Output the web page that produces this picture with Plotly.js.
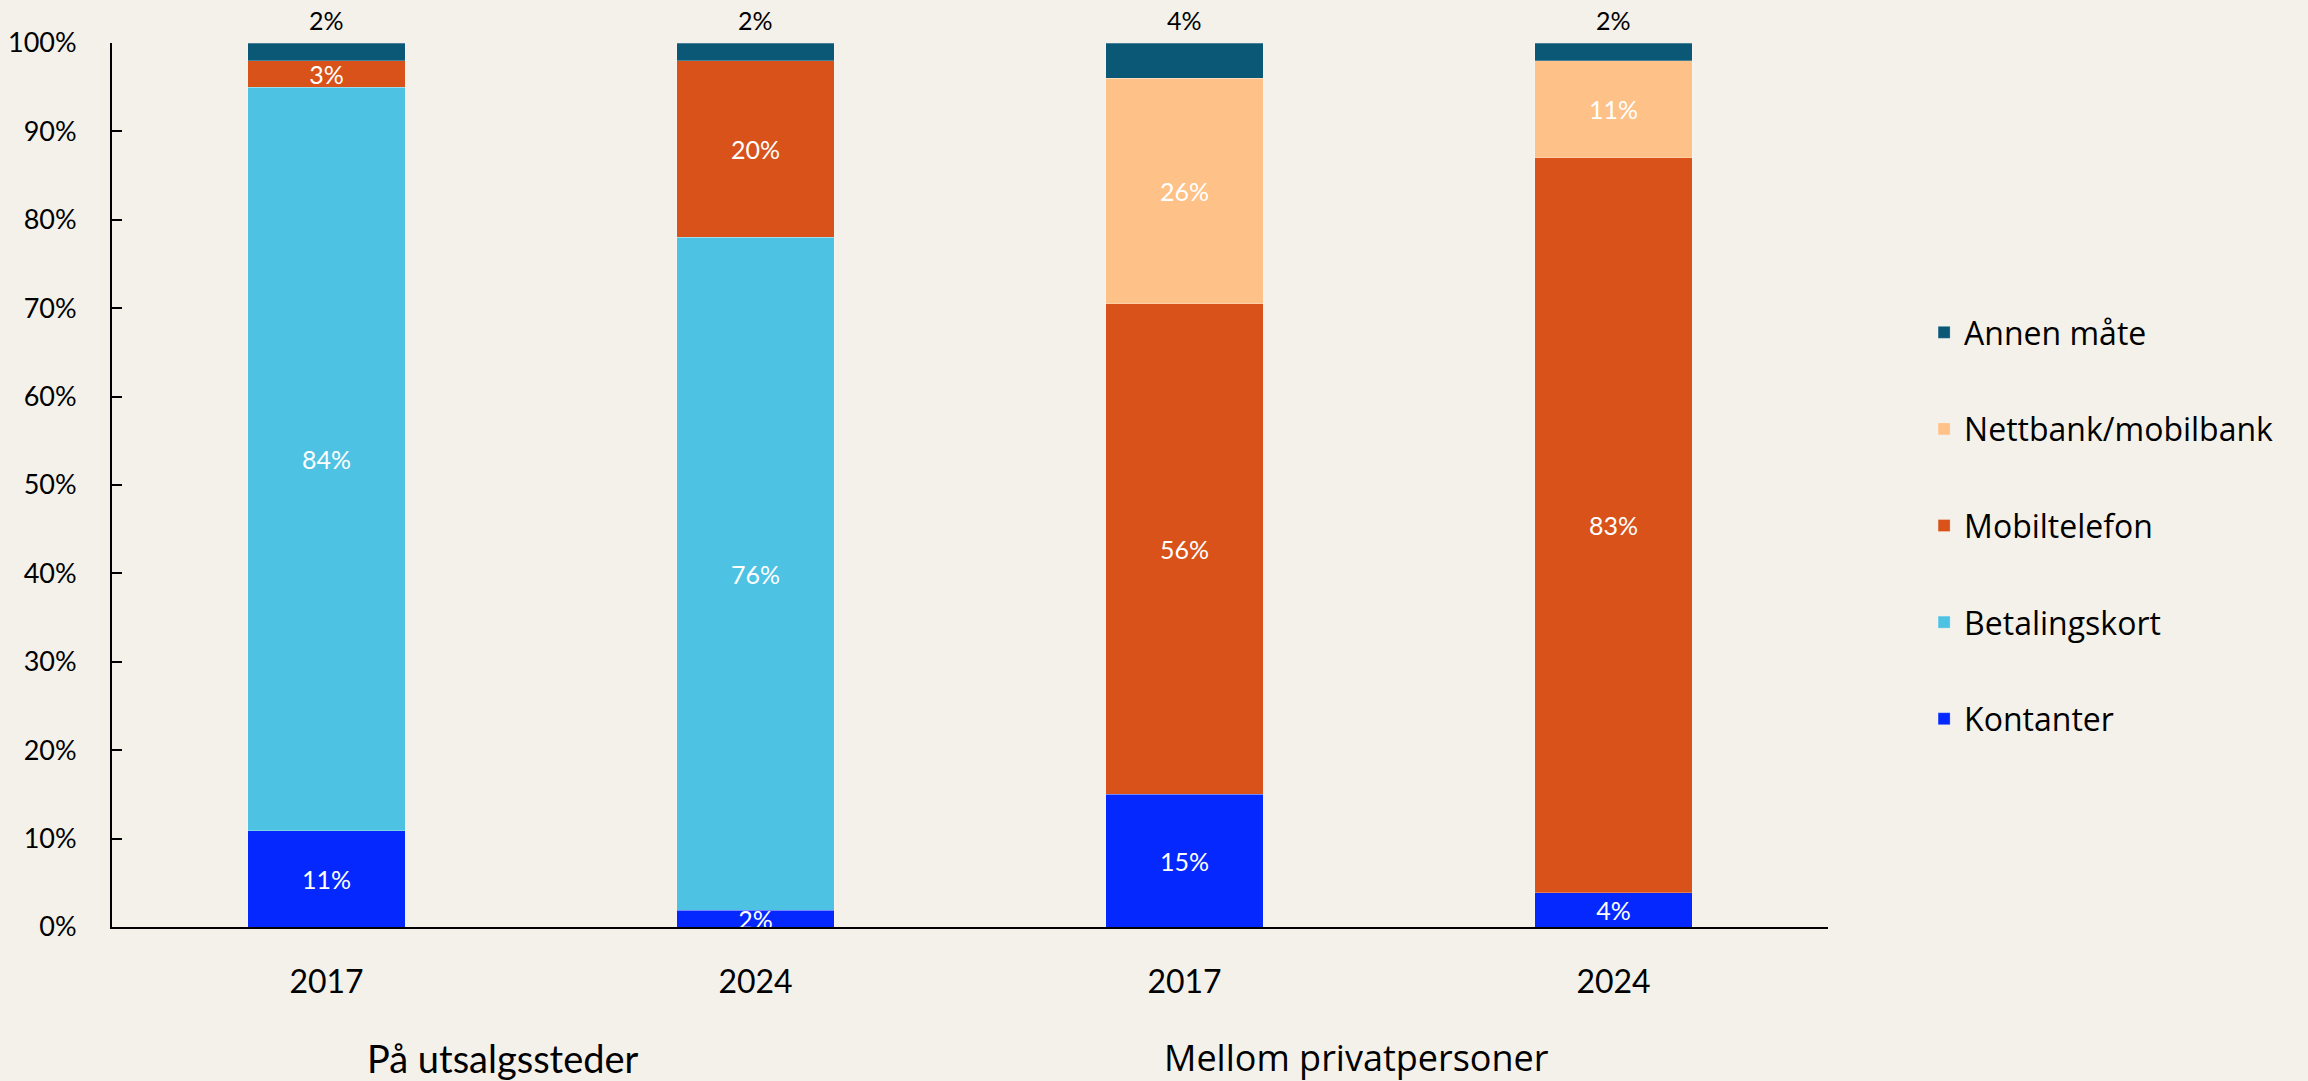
<!DOCTYPE html>
<html>
<head>
<meta charset="utf-8">
<script src="https://cdn.plot.ly/plotly-3.0.1.min.js"></script>
<style>
  html, body { margin: 0; padding: 0; background: #F4F1EA; }
  #chart { width: 2308px; height: 1081px; }
</style>
</head>
<body>
<div id="chart"></div>
<script>
// ---- data (percent) ----
const groups = ['På utsalgssteder', 'På utsalgssteder', 'Mellom privatpersoner', 'Mellom privatpersoner'];
const years = ['2017', '2024', '2017', '2024'];
const kontanter = [10.9, 1.9, 15.0, 3.9];
const betalingskort = [84.1, 76.1, 0, 0];
const mobiltelefon = [3.0, 20.0, 55.5, 83.1];
const nettbank = [0, 0, 25.5, 11.0];
const annenMaate = [2.0, 2.0, 4.0, 2.0];

const seriesNames = ['Kontanter', 'Betalingskort', 'Mobiltelefon', 'Nettbank/mobilbank', 'Annen måte'];
const seriesValues = [kontanter, betalingskort, mobiltelefon, nettbank, annenMaate];
const seriesColors = ['#0528FF', '#4EC2E3', '#D85219', '#FEC187', '#0B5876'];

const groupLabels = ['På utsalgssteder', 'Mellom privatpersoner'];
const yTickValues = [0, 10, 20, 30, 40, 50, 60, 70, 80, 90, 100];

// ---- build ----
const keys = groups.map((g, i) => g + ' ' + years[i]);
const pct = v => Math.round(v) + '%';
const nSeries = seriesValues.length;

const traces = seriesValues.map((vals, s) => {
  const isTop = s === nSeries - 1;
  return {
    type: 'bar',
    name: seriesNames[s],
    legendgroup: seriesNames[s],
    legendrank: nSeries - s,
    x: keys,
    y: vals.map(v => (v === 0 ? null : v)),
    text: vals.map(v => (v === 0 || isTop ? '' : pct(v))),
    textposition: 'inside',
    insidetextanchor: 'middle',
    textangle: 0,
    constraintext: 'none',
    cliponaxis: false,
    insidetextfont: { family: 'Lato, Liberation Sans, sans-serif', size: 25, color: '#FFFFFF' },
    marker: { color: seriesColors[s], line: { width: 1, color: 'rgba(255,255,255,0.25)' } },
    hoverinfo: 'x+y+name'
  };
});

// labels above each stack (value of the top segment)
const totals = keys.map((k, i) => seriesValues.reduce((a, arr) => a + arr[i], 0));
const topAnnotations = keys.map((k, i) => ({
  x: k, y: totals[i], xref: 'x', yref: 'y',
  text: pct(annenMaate[i]),
  showarrow: false, yanchor: 'bottom', yshift: 6,
  font: { family: 'Lato, Liberation Sans, sans-serif', size: 25, color: '#000000' }
}));

const groupPos = [0.228, 0.7254];
const groupFonts = [
  { family: 'Lato, Liberation Sans, sans-serif', size: 38, color: '#000000' },
  { family: 'Open Sans, sans-serif', size: 36, color: '#000000' }
];
const groupAnnotations = groupLabels.map((g, j) => ({
  x: groupPos[j], y: -0.148, xref: 'paper', yref: 'paper',
  text: g, showarrow: false, xanchor: 'center', yanchor: 'middle',
  font: groupFonts[j]
}));

const layout = {
  width: 2308, height: 1081,
  paper_bgcolor: '#F4F1EA', plot_bgcolor: '#F4F1EA',
  margin: { l: 112, r: 480, t: 43, b: 154 },
  barmode: 'stack',
  bargap: 0.634,
  font: { family: 'Lato, Liberation Sans, sans-serif', color: '#000000' },
  xaxis: {
    type: 'category',
    tickmode: 'array',
    tickvals: keys, ticktext: years,
    showline: true, linecolor: '#000000', linewidth: 2,
    ticks: '', showgrid: false, zeroline: false,
    tickfont: { family: 'Lato, Liberation Sans, sans-serif', size: 32, color: '#000000' },
    ticklabelstandoff: 26,
    fixedrange: true
  },
  yaxis: {
    range: [0, 100],
    tickmode: 'array',
    tickvals: yTickValues,
    ticktext: yTickValues.map(v => v + '%'),
    showline: true, linecolor: '#000000', linewidth: 2,
    ticks: 'inside', ticklen: 10, tickwidth: 2, tickcolor: '#000000',
    showgrid: false, zeroline: false,
    tickfont: { family: 'Lato, Liberation Sans, sans-serif', size: 27, color: '#000000' },
    ticklabelstandoff: 28,
    fixedrange: true
  },
  showlegend: true,
  legend: {
    x: 1.056, xanchor: 'left', y: 0.7036, yanchor: 'top',
    traceorder: 'grouped',
    tracegroupgap: 52,
    bgcolor: 'rgba(0,0,0,0)',
    font: { family: 'Open Sans, sans-serif', size: 32, color: '#000000' }
  },
  annotations: topAnnotations.concat(groupAnnotations)
};

Plotly.newPlot('chart', traces, layout, { displayModeBar: false, staticPlot: true });
</script>
</body>
</html>
